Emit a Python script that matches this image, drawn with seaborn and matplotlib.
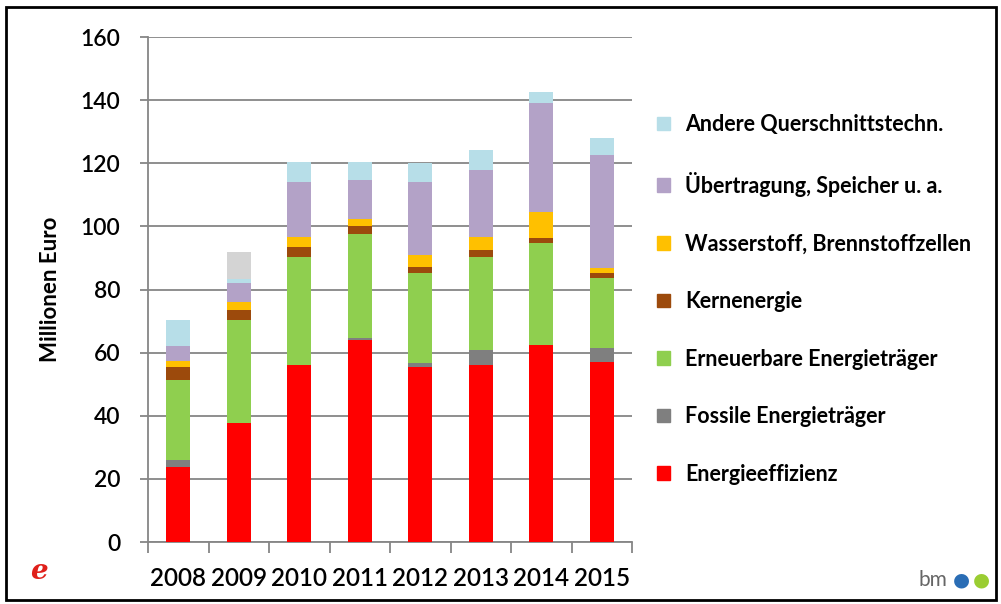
import numpy as np
import pandas as pd
import seaborn as sns
import matplotlib.pyplot as plt
from matplotlib.patches import Patch, Rectangle

# Daten (Millionen Euro)
jahre = ["2008", "2009", "2010", "2011", "2012", "2013", "2014", "2015"]
energieeffizienz = [23.8, 37.8, 56.0, 64.0, 55.3, 56.1, 62.4, 57.1]
fossile = [2.2, 0.0, 0.0, 0.5, 1.3, 4.7, 0.0, 4.3]
erneuerbare = [25.3, 32.5, 34.4, 33.1, 28.5, 29.6, 32.2, 22.2]
kernenergie = [4.3, 3.2, 3.1, 2.5, 2.1, 2.1, 1.6, 1.5]
wasserstoff = [1.9, 2.6, 3.3, 2.4, 3.8, 4.0, 8.5, 1.6]
uebertragung = [4.6, 5.9, 17.4, 12.2, 23.2, 21.4, 34.3, 35.9]
andere = [8.2, 1.3, 6.3, 5.8, 5.8, 6.3, 3.7, 5.3]
sonstige = [0.0, 8.7, 0.0, 0.0, 0.0, 0.0, 0.0, 0.0]  # grauer Block 2009, nicht in Legende

serien = ["Energieeffizienz", "Fossile Energieträger", "Erneuerbare Energieträger",
          "Kernenergie", "Wasserstoff, Brennstoffzellen", "Übertragung, Speicher u. a.",
          "Andere Querschnittstechn.", "Sonstige"]
werte = [energieeffizienz, fossile, erneuerbare, kernenergie, wasserstoff,
         uebertragung, andere, sonstige]
farben = ["#ff0000", "#7f7f7f", "#8fcf4f", "#9c4a0c", "#ffc000", "#b3a2c7",
          "#b7dee8", "#d4d4d4"]

df = pd.DataFrame(dict(zip(serien, werte)), index=jahre)
kum = df.cumsum(axis=1)

plt.rcParams['font.family'] = ['Lato', 'DejaVu Sans']

fig = plt.figure(figsize=(10.01, 6.04), dpi=100)
ax = fig.add_axes([0.1479, 0.1026, 0.4835, 0.8361])

# gestapelt: von oben nach unten übereinander zeichnen
for s, c in reversed(list(zip(serien, farben))):
    d = pd.DataFrame({"jahr": jahre, "wert": kum[s].values})
    sns.barplot(data=d, x="jahr", y="wert", color=c, width=0.4,
                saturation=1, linewidth=0, ax=ax, zorder=3)

ax.set_ylim(0, 160)
ax.set_xlim(-0.5, 7.5)
ax.set_yticks(range(0, 161, 20))
ax.yaxis.grid(True, color="#868686", linewidth=1.3, zorder=0)
ax.set_axisbelow(True)
for sp in ["top", "right"]:
    ax.spines[sp].set_visible(False)
ax.spines["left"].set_color("#868686")
ax.spines["bottom"].set_color("#868686")
ax.spines["left"].set_linewidth(1.3)
ax.spines["bottom"].set_linewidth(1.3)

ax.set_xticks(np.arange(-0.5, 8, 1), minor=True)
ax.tick_params(axis="x", which="major", length=0, labelsize=17.5, pad=18)
ax.tick_params(axis="x", which="minor", length=8, color="#868686", width=1.3)
ax.tick_params(axis="y", length=6, color="#868686", width=1.3, labelsize=16.5, pad=14)
for lab in ax.get_xticklabels() + ax.get_yticklabels():
    lab.set_fontweight("semibold")
ax.set_xlabel("")
ax.set_ylabel("Millionen Euro", fontsize=16, fontweight="bold", labelpad=14)

handles = [Patch(color=c, label=s) for s, c in zip(serien[:7], farben[:7])][::-1]
fig.legend(handles=handles, loc="upper left", bbox_to_anchor=(0.637, 0.843),
           frameon=False, prop={"size": 15.5, "weight": "bold"},
           handlelength=0.6, handleheight=0.6, handletextpad=0.7,
           labelspacing=1.7)

# Rahmen und Logos
fig.patches.append(Rectangle((0.006, 0.007), 0.989, 0.981, transform=fig.transFigure,
                             fill=False, edgecolor="black", linewidth=2))
fig.text(0.03, 0.042, "e", color="#e0201b", fontsize=20, fontstyle="italic",
         fontweight="bold", family="DejaVu Serif")
fig.text(0.918, 0.03, "bm", color="#666666", fontsize=15)
fig.text(0.952, 0.03, "●", color="#2a6db5", fontsize=14, family="DejaVu Sans")
fig.text(0.972, 0.03, "●", color="#9acd32", fontsize=14, family="DejaVu Sans")

plt.savefig("out.png", dpi=100)
